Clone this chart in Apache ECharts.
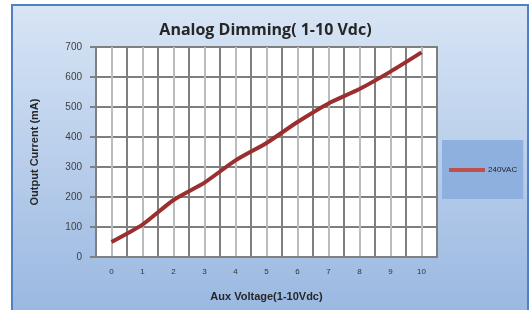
<!DOCTYPE html>
<html>
<head>
<meta charset="utf-8">
<script src="https://cdn.jsdelivr.net/npm/echarts@6/dist/echarts.min.js"></script>
<style>
html,body{margin:0;padding:0;background:#fff;}
#c{width:531px;height:310px;}
</style>
</head>
<body>
<div id="c"></div>
<script>
var categories = ['0','1','2','3','4','5','6','7','8','9','10'];
var seriesName = '240VAC';
var currentValues = [50, 108, 190, 248, 322, 380, 450, 512, 560, 618, 682];
var yTicks = { min: 0, max: 700, interval: 100 };

var chart = echarts.init(document.getElementById('c'));
chart.setOption({
  animation: false,
  backgroundColor: '#ffffff',
  graphic: [{
    type: 'rect',
    z: -10,
    shape: { x: 12, y: 5, width: 516, height: 320 },
    style: {
      fill: new echarts.graphic.LinearGradient(0, 0, 0, 1, [
        { offset: 0, color: '#d8e5f5' },
        { offset: 1, color: '#97b6e0' }
      ]),
      stroke: '#4f81c4',
      lineWidth: 2
    }
  }],
  title: {
    text: 'Analog Dimming( 1-10 Vdc)',
    left: 'center',
    top: 17,
    textStyle: { fontFamily: 'Open Sans', fontWeight: 'bold', fontSize: 16, color: '#262626' }
  },
  legend: {
    left: 442,
    top: 140,
    backgroundColor: '#8db0de',
    padding: [26, 6, 25, 7],
    itemWidth: 36,
    itemHeight: 4,
    itemGap: 0,
    icon: 'rect',
    data: [seriesName],
    textStyle: { fontSize: 8, color: '#262626', fontFamily: 'Liberation Sans', padding: [0, 0, 0, -2] }
  },
  grid: {
    left: 96, top: 47, right: 94, bottom: 53,
    show: true, backgroundColor: '#ffffff', borderColor: '#808080', borderWidth: 2
  },
  xAxis: [{
    type: 'category',
    data: categories,
    boundaryGap: true,
    name: 'Aux Voltage(1-10Vdc)',
    nameLocation: 'middle',
    nameGap: 34,
    nameTextStyle: { fontFamily: 'Liberation Sans', fontWeight: 'bold', fontSize: 11, color: '#262626' },
    axisLine: { show: true, lineStyle: { color: '#808080', width: 2 } },
    axisTick: { show: false },
    axisLabel: { fontSize: 8, color: '#333', margin: 11, fontFamily: 'Liberation Sans' },
    splitLine: { show: false }
  }, {
    type: 'value',
    position: 'bottom',
    min: 0, max: 11, interval: 1,
    axisLine: { show: false },
    axisTick: { show: false },
    axisLabel: { show: false },
    splitLine: { show: true, lineStyle: { color: '#7f7f7f', width: 2 } },
    minorTick: { show: false, splitNumber: 2 },
    minorSplitLine: { show: true, lineStyle: { color: '#b9bdbd', width: 2 } }
  }],
  yAxis: {
    type: 'value',
    min: yTicks.min, max: yTicks.max, interval: yTicks.interval,
    name: 'Output Current (mA)',
    nameLocation: 'middle',
    nameGap: 56,
    nameTextStyle: { fontFamily: 'Liberation Sans', fontWeight: 'bold', fontSize: 11, color: '#262626' },
    axisLine: { show: true, lineStyle: { color: '#808080', width: 2 } },
    axisTick: { show: true, length: 6, lineStyle: { color: '#808080', width: 2 } },
    axisLabel: { fontSize: 10, color: '#404040', margin: 14, fontFamily: 'Liberation Sans' },
    splitLine: { show: true, lineStyle: { color: '#7f7f7f', width: 2 } }
  },
  series: [{
    name: seriesName,
    type: 'line',
    xAxisIndex: 0,
    data: currentValues,
    smooth: 0.2,
    showSymbol: false,
    symbol: 'none',
    lineStyle: { color: '#9b2f2f', width: 4 },
    itemStyle: { color: '#c0504d' },
    z: 5
  }]
});
</script>
</body>
</html>
